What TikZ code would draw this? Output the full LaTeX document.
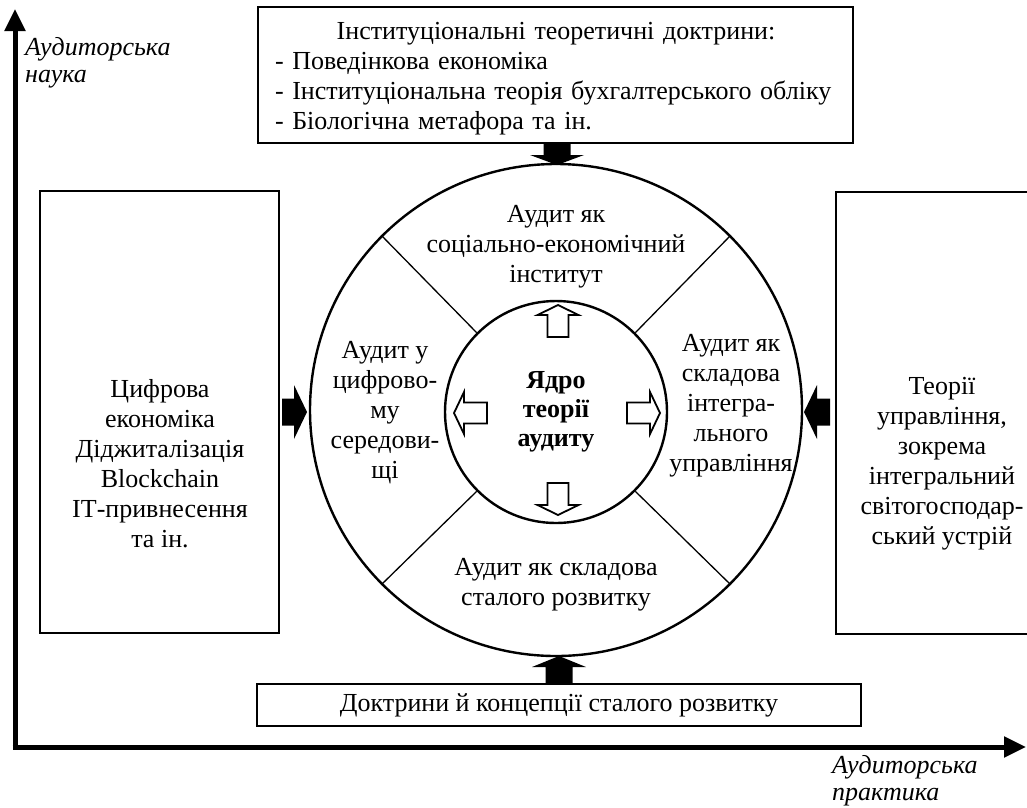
\documentclass[tikz,border=0pt]{standalone}
\usepackage{fontspec}
\setmainfont{Liberation Serif}
\usetikzlibrary{arrows.meta}
\begin{document}
\begin{tikzpicture}[x=1pt,y=-1pt,
  txt/.style={font=\fontsize{26}{30}\selectfont, align=center, inner sep=0pt},
  btxt/.style={font=\fontsize{26}{29}\selectfont\bfseries, align=center, inner sep=0pt},
  itxt/.style={font=\fontsize{26}{27}\selectfont\itshape, align=left, inner sep=0pt},
  boxline/.style={draw, line width=2.4pt, inner sep=0pt},
  axisline/.style={line width=5pt, -{Triangle[length=22pt,width=20pt]}},
  solidarrow/.style={fill=black},
  hollow/.style={draw, fill=white, line width=1.8pt, line join=miter},
  ring/.style={circle, draw, line width=2.4pt, inner sep=0pt},
  divider/.style={line width=1.3pt},
]
\useasboundingbox (0,0) rectangle (1027,807);
\clip (0,0) rectangle (1027,807);

% axes
\coordinate (ybase) at (15,749.5);
\coordinate (ytip) at (15,9);
\coordinate (xbase) at (12.5,747);
\coordinate (xtip) at (1026,747);
\draw[axisline] (ybase) -- (ytip);
\draw[axisline] (xbase) -- (xtip);
\node[itxt, anchor=north west] (science) at (25,37) {Аудиторська\\наука};
\node[itxt, anchor=north west] (practice) at (832,755) {Аудиторська\\практика};

% boxes
\node[boxline, minimum width=595, minimum height=136] (tbox) at (555.5,75) {};
\node[txt, text width=562, align=left] (ttext) at (556,79)
  {\makebox[562pt]{Інституціональні теоретичні доктрини:}\\
   - Поведінкова економіка\\
   - Інституціональна теорія бухгалтерського обліку\\
   - Біологічна метафора та ін.};
\node[boxline, minimum width=239, minimum height=442] (lbox) at (159.5,412) {};
\node[txt] (ltext) at (160,464) {Цифрова\\економіка\\Діджиталізація\\Blockchain\\ІТ-привнесення\\та ін.};
\node[boxline, minimum width=260, minimum height=442, anchor=west] (rbox) at (835,413) {};
\node[txt] (rtext) at (942,464) {Теорії\\управління,\\зокрема\\інтегральний\\світогосподар-\\ський устрій};
\node[boxline, minimum width=604, minimum height=42, txt] (bbox) at (559,705) {Доктрини й концепції сталого розвитку};

% circles
\node[ring, minimum size=492] (outer) at (556,410) {};
\node[ring, minimum size=222] (inner) at (556,412) {};
\foreach \a in {45,135,225,315} \draw[divider] (inner.\a) -- (outer.\a);

% circle texts
\node[txt] (seg top) at (556,247) {Аудит як\\соціально-економічний\\інститут};
\node[txt] (seg left) at (385,413) {Аудит у\\цифрово-\\му\\середови-\\щі};
\node[txt] (seg right) at (731,406) {Аудит як\\складова\\інтегра-\\льного\\управління};
\node[txt] (seg bottom) at (556,585) {Аудит як складова\\сталого розвитку};
\node[btxt] (core) at (556,412) {Ядро\\теорії\\аудиту};

% solid arrows
\fill[solidarrow, shift={(307,412)}] (0,0) -- (-13,-27) -- (-13,-13.5) -- (-25,-13.5) -- (-25,13.5) -- (-13,13.5) -- (-13,27) -- cycle;
\fill[solidarrow, shift={(804,412)}] (0,0) -- (13,-27) -- (13,-13.5) -- (26,-13.5) -- (26,13.5) -- (13,13.5) -- (13,27) -- cycle;
\fill[solidarrow, shift={(557,165)}] (0,0) -- (-27,-10) -- (-13.5,-10) -- (-13.5,-23) -- (13.5,-23) -- (13.5,-10) -- (27,-10) -- cycle;
\fill[solidarrow, shift={(559,656)}] (0,0) -- (-27,11) -- (-13.5,11) -- (-13.5,28) -- (13.5,28) -- (13.5,11) -- (27,11) -- cycle;

% hollow arrows
\draw[hollow, shift={(558,305)}] (0,0) -- (20.5,10) -- (10.5,10) -- (10.5,32) -- (-10.5,32) -- (-10.5,10) -- (-20.5,10) -- cycle;
\draw[hollow, shift={(558,515)}] (0,0) -- (20.5,-10) -- (10.5,-10) -- (10.5,-32) -- (-10.5,-32) -- (-10.5,-10) -- (-20.5,-10) -- cycle;
\draw[hollow, shift={(454,413)}] (0,0) -- (10,-21) -- (10,-10.5) -- (33,-10.5) -- (33,10.5) -- (10,10.5) -- (10,21) -- cycle;
\draw[hollow, shift={(660,413)}] (0,0) -- (-10,-21) -- (-10,-10.5) -- (-33,-10.5) -- (-33,10.5) -- (-10,10.5) -- (-10,21) -- cycle;
\end{tikzpicture}
\end{document}
